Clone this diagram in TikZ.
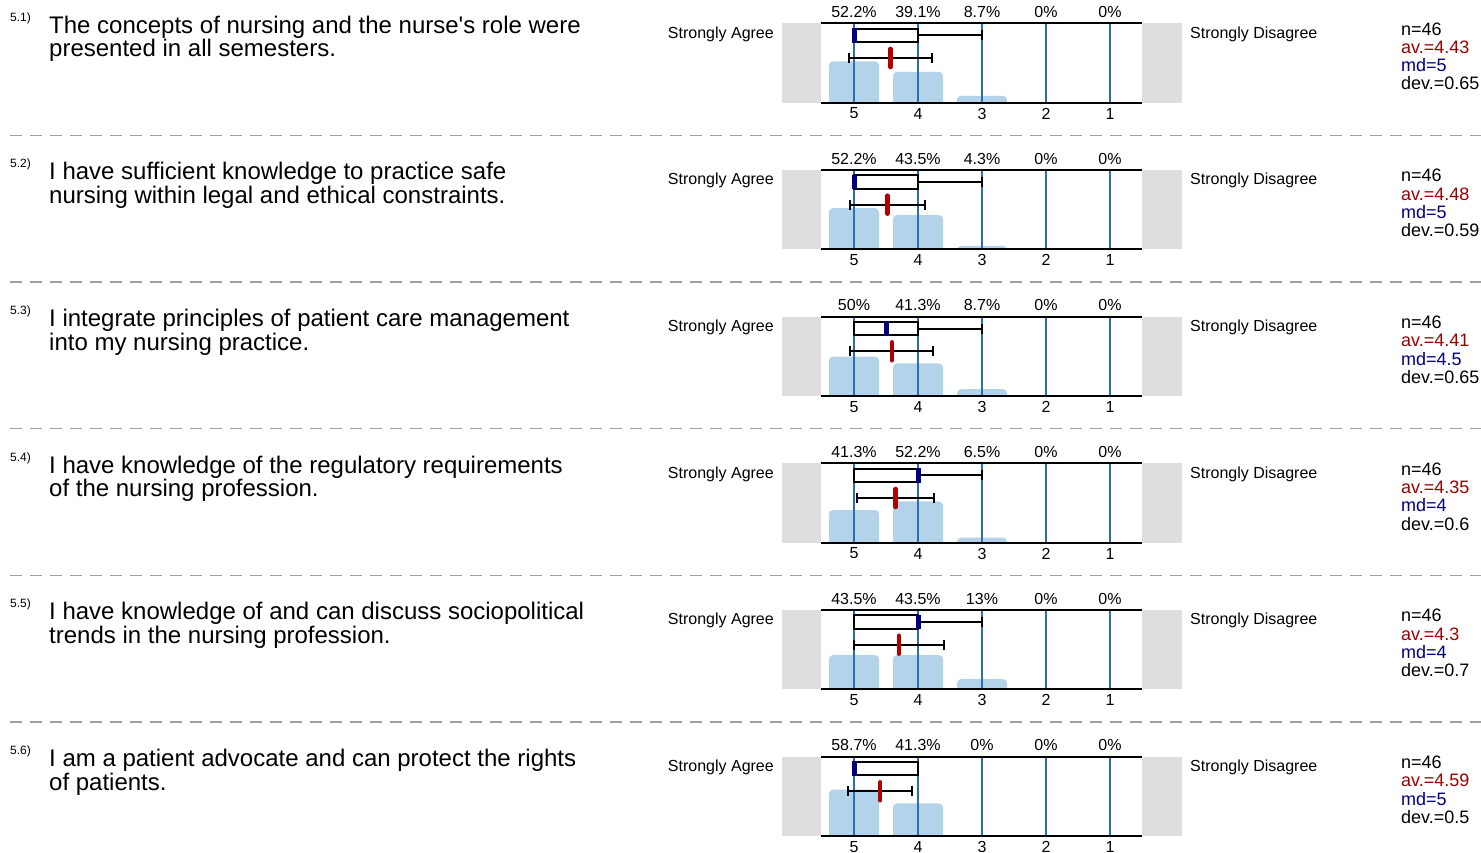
\documentclass[tikz,border=0pt]{standalone}
\usepackage{fontspec}
\setmainfont{Liberation Sans}[Ligatures=TeXOff]
\definecolor{sidegray}{HTML}{DEDEDE}
\definecolor{barblue}{HTML}{B3D3EA}
\definecolor{axisblue}{HTML}{2A6EBB}
\definecolor{mdblue}{HTML}{00007F}
\definecolor{meanred}{HTML}{B20000}
\definecolor{avred}{HTML}{990000}
\definecolor{sepgray}{HTML}{A0A0A0}

\begin{document}
\begin{tikzpicture}
	[x=1pt,y=-1pt,every node/.style={inner sep=0pt,font=\fontsize{16}{16}\selectfont}]
	\tikzset{sidebox/.style = {fill=sidegray},
		bar/.style = {fill=barblue,rounded corners=4pt},
		gridline/.style = {axisblue,line width=1.2pt},
		frameline/.style = {black,line width=1.8pt},
		whisk/.style = {black,line width=2pt},
		sep/.style = {sepgray,line width=1.2pt,dash pattern=on 12pt off 8pt},
		question/.style = {anchor=base west,align=left,font=\fontsize{24}{23.4}\selectfont},
		stats/.style = {anchor=base west,align=left,font=\fontsize{18}{18.3}\selectfont}}
	\useasboundingbox (0,0) rectangle (1481,853);
	\foreach \r/\lineA/\lineB/\pa/\pb/\pc/\pd/\pe/\md/\mn/\sd/\wh in {
		1/{The concepts of nursing and the nurse's role were}/{presented in all semesters.}/52.2/39.1/8.7/0/0/5/4.43/0.65/3,
		2/{I have sufficient knowledge to practice safe}/{nursing within legal and ethical constraints.}/52.2/43.5/4.3/0/0/5/4.48/0.59/3,
		3/{I integrate principles of patient care management}/{into my nursing practice.}/50/41.3/8.7/0/0/4.5/4.41/0.65/3,
		4/{I have knowledge of the regulatory requirements}/{of the nursing profession.}/41.3/52.2/6.5/0/0/4/4.35/0.6/3,
		5/{I have knowledge of and can discuss sociopolitical}/{trends in the nursing profession.}/43.5/43.5/13/0/0/4/4.3/0.7/3,
		6/{I am a patient advocate and can protect the rights}/{of patients.}/58.7/41.3/0/0/0/5/4.59/0.5/4}
	{
		\pgfmathsetmacro\oy{(\r-1)*146.67}
		% question text
		\node[anchor=west,font=\fontsize{12}{12}\selectfont] (num\r) at (10,\oy+18) {5.\r)};
		\node[question] (q\r) at (49,\oy+56.7) {\lineA\\\lineB};
		\node[anchor=east] (agree\r) at (774,\oy+34) {Strongly Agree};
		\node[anchor=west] (disagree\r) at (1190,\oy+34) {Strongly Disagree};
		\node[stats] (st\r) at (1401,\oy+90) {n=46\\\textcolor{avred}{av.=\mn}\\\textcolor{mdblue}{md=\md}\\dev.=\sd};
		% chart
		\fill[sidebox] (782,\oy+23.3) rectangle (821,\oy+102.7);
		\fill[sidebox] (1142,\oy+23.3) rectangle (1182,\oy+102.7);
		\foreach \p [count=\i from 0] in {\pa,\pb,\pc,\pd,\pe}{
			\pgfmathsetmacro\cx{854+64*\i}
			\pgfmathtruncatemacro\lab{5-\i}
			\ifdim\p pt>0pt
				\fill[bar] (\cx-25,\oy+102.7) -- (\cx-25,\oy+102.7-\p*0.79) -- (\cx+25,\oy+102.7-\p*0.79) -- (\cx+25,\oy+102.7);
			\fi
			\draw[gridline] (\cx,\oy+23.3) -- (\cx,\oy+102.7);
			\node (pct\r-\i) at (\cx,\oy+12) {\p\%};
			\node (lab\r-\i) at (\cx,\oy+113.5) {\lab};
		}
		\draw[frameline] (821,\oy+23.3) -- (1142,\oy+23.3);
		\draw[frameline] (821,\oy+102.7) -- (1142,\oy+102.7);
		% box plot
		\pgfmathsetmacro\wx{854+(5-\wh)*64}
		\draw[whisk] (918,\oy+35.3) -- (\wx,\oy+35.3);
		\draw[whisk] (\wx,\oy+30.3) -- (\wx,\oy+40.3);
		\draw[whisk,fill=white] (854,\oy+28.7) rectangle (918,\oy+42);
		\pgfmathsetmacro\mx{854+(5-\md)*64}
		\fill[mdblue] (\mx-2.5,\oy+28) rectangle (\mx+2.5,\oy+42.7);
		% mean and deviation
		\pgfmathsetmacro\ax{854+(5-\mn)*64}
		\pgfmathsetmacro\lo{\ax-\sd*64}
		\pgfmathsetmacro\hi{\ax+\sd*64}
		\draw[whisk] (\lo,\oy+58) -- (\hi,\oy+58);
		\draw[whisk] (\lo,\oy+53) -- (\lo,\oy+63);
		\draw[whisk] (\hi,\oy+53) -- (\hi,\oy+63);
		\draw[meanred,line width=4.5pt,line cap=round] (\ax,\oy+49) -- (\ax,\oy+67);
		\ifnum\r<6
			\draw[sep] (10,\oy+135.3) -- (1481,\oy+135.3);
		\fi
	}
\end{tikzpicture}
\end{document}
